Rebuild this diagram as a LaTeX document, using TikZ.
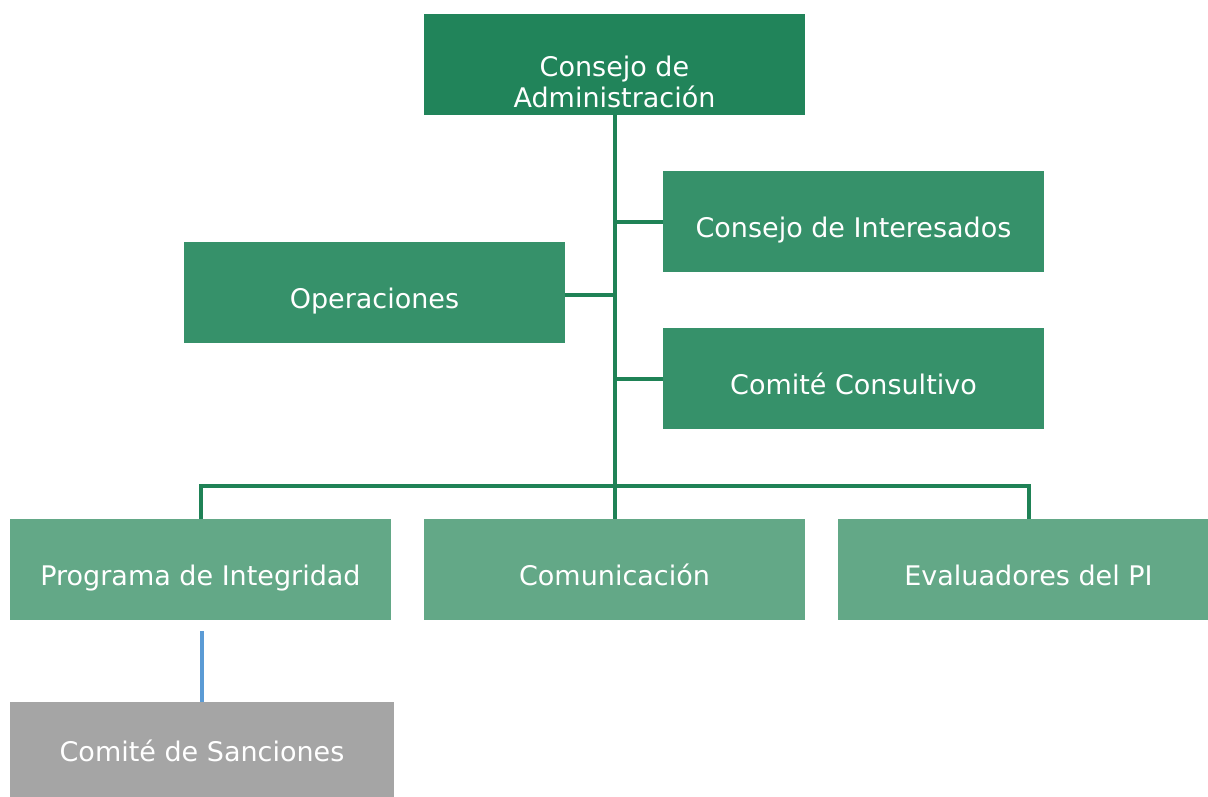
\documentclass[tikz,border=0pt]{standalone}
\usepackage{fontspec}
\setmainfont{DejaVu Sans}
\definecolor{cdark}{HTML}{21845A}
\definecolor{cmid}{HTML}{36916A}
\definecolor{clight}{HTML}{63A887}
\definecolor{cgray}{HTML}{A5A5A5}
\definecolor{cline}{HTML}{1F8256}
\definecolor{cblue}{HTML}{5B9BD5}
\begin{document}
\begin{tikzpicture}[x=1pt,y=-1pt,
  box/.style={rectangle, inner sep=0pt, minimum width=381pt, minimum height=101pt,
    text=white, font=\fontsize{27}{31}\selectfont, text height=31pt, text depth=0pt},
  txt/.style={inner sep=0pt, text=white, font=\fontsize{27}{31}\selectfont},
  conn/.style={draw=cline, line width=4pt},
  subconn/.style={draw=cblue, line width=4pt}]
\useasboundingbox (0,0) rectangle (1208,796);
\clip (0,0) rectangle (1208,796);
% boxes
\node[box, fill=cdark] (admin) at (614.5,64.5) {};
\node[txt, align=center] (admintxt) at (614.5,82.3) {Consejo de\\Administración};
\node[box, fill=cmid] (inter) at (853.5,221.5) {Consejo de Interesados};
\node[box, fill=cmid] (ops) at (374.5,292.5) {Operaciones};
\node[box, fill=cmid] (cons) at (853.5,378.5) {Comité Consultivo};
\node[box, fill=clight] (prog) at (200.5,569.5) {Programa de Integridad};
\node[box, fill=clight] (comu) at (614.5,569.5) {Comunicación};
\node[box, fill=clight] (eval) at (1028.5,569.5) {Evaluadores del PI};
\node[box, fill=cgray, minimum width=384pt, text height=17pt] (sanc) at (202,752.5) {Comité de Sanciones};
% connectors
\coordinate (bus) at (614.5,486);
\coordinate (opsj) at (614.5,295);
\draw[conn] (admin.south) -- (comu.north);
\draw[conn] (inter.west -| admin.south) -- (inter.west);
\draw[conn] (cons.west -| admin.south) -- (cons.west);
\draw[conn] ([yshift=-2.5pt]ops.east) -- (opsj);
\draw[conn] (prog.north) |- (bus) -| (eval.north);
\coordinate (blue) at ([yshift=-11pt]sanc.north |- prog.south);
\draw[subconn] (blue) -- (sanc.north);
\end{tikzpicture}
\end{document}
